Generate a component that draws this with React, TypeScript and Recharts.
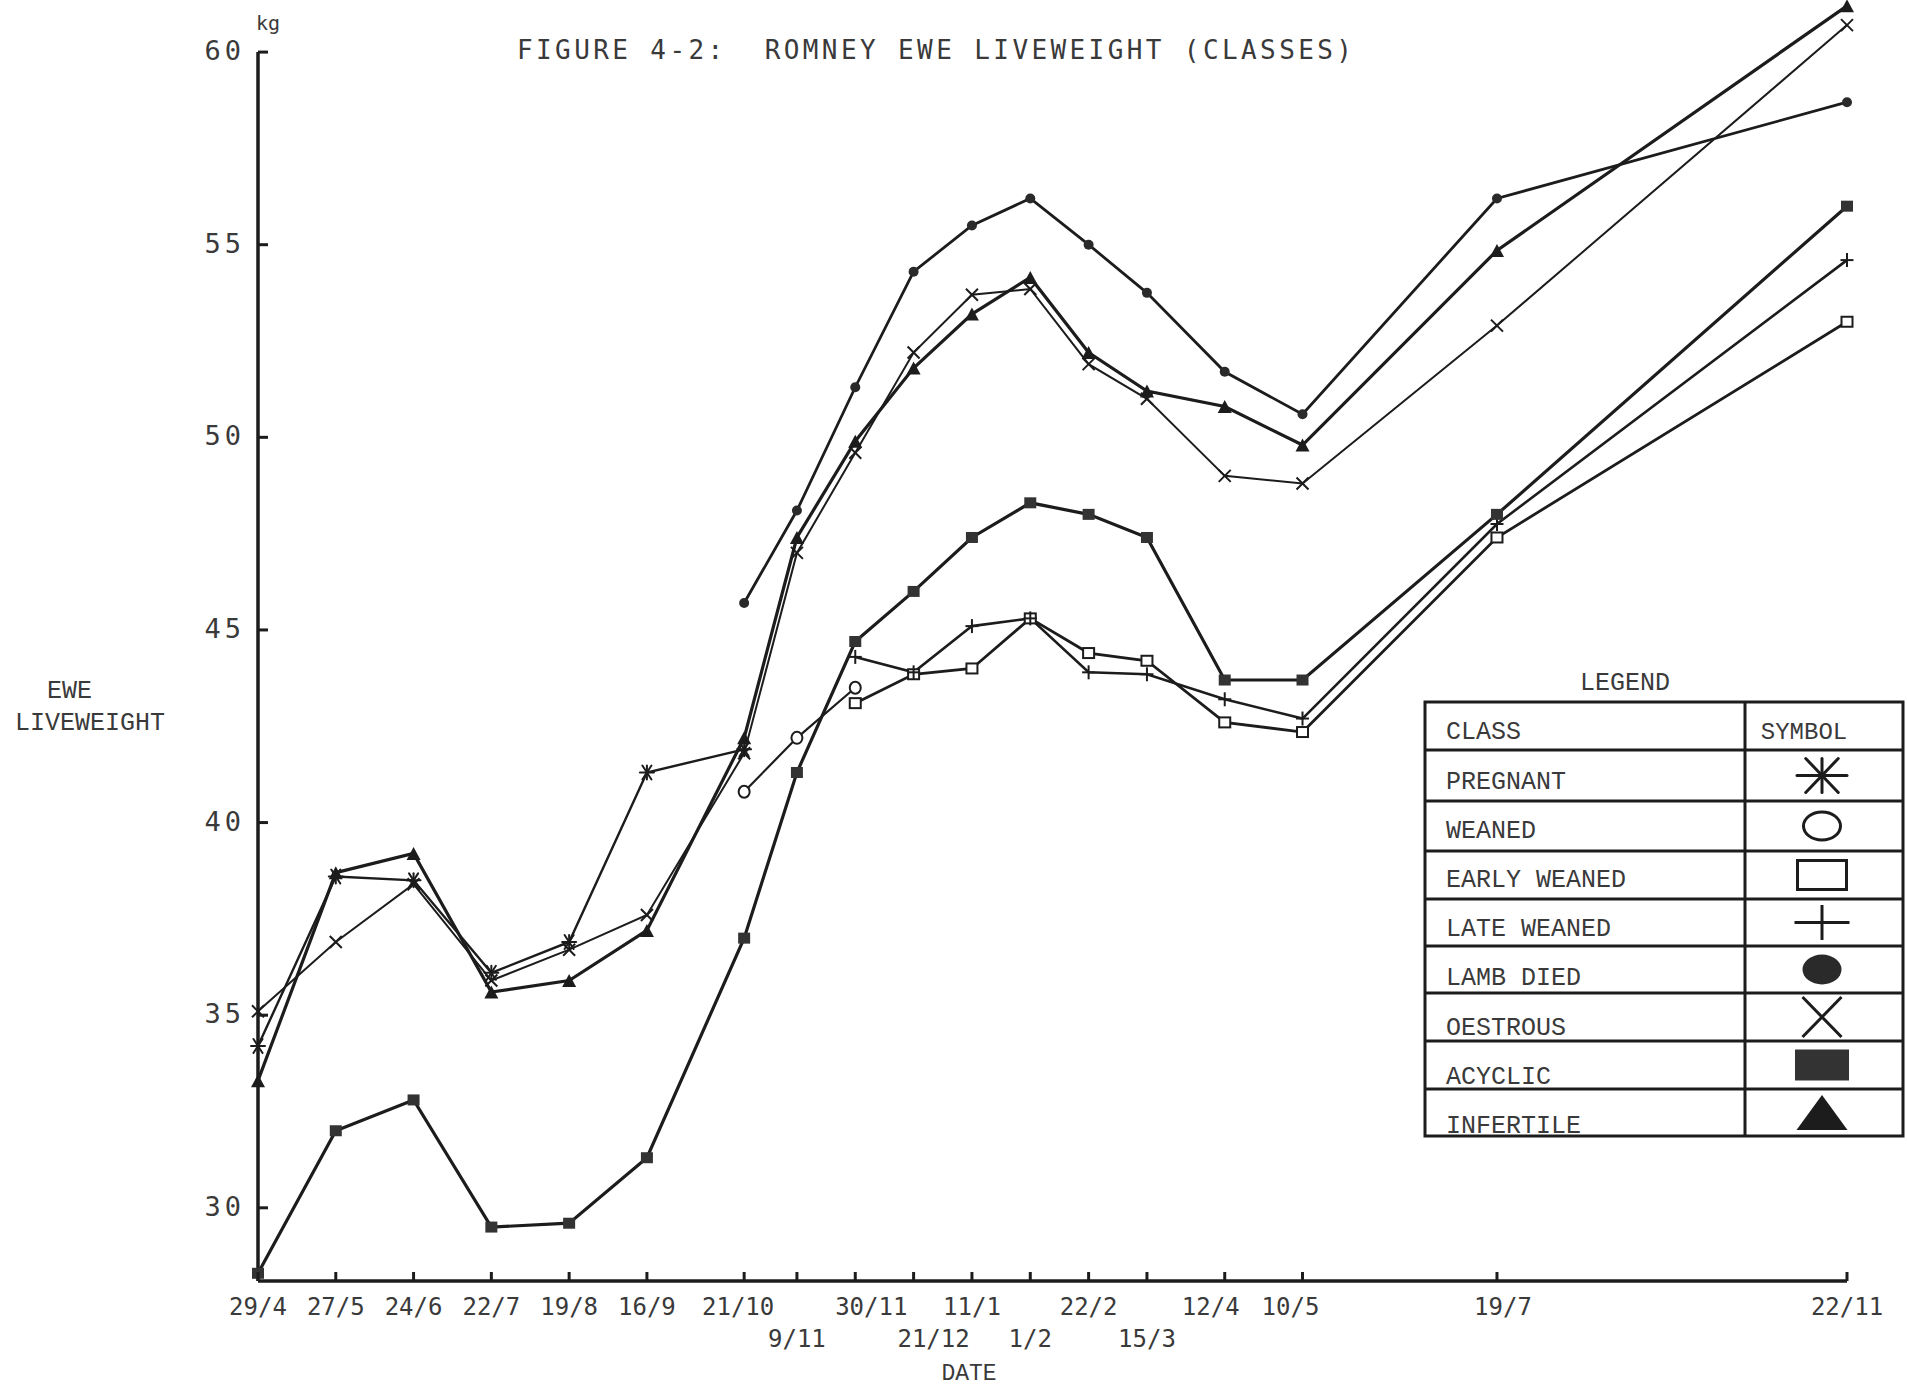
import React from "react";
import { LineChart, Line, XAxis, YAxis, ReferenceLine } from "recharts";

// sampling dates and days since the first weighing (29/4)
const dateLabels = ["29/4", "27/5", "24/6", "22/7", "19/8", "16/9", "21/10", "9/11", "30/11", "21/12", "11/1", "1/2", "22/2", "15/3", "12/4", "10/5", "19/7", "22/11"];
const dayNumbers = [0, 28, 56, 84, 112, 140, 175, 194, 215, 236, 257, 278, 299, 320, 348, 376, 446, 572];
const lowerRowLabels = ["9/11", "21/12", "1/2", "15/3"];
const yTicks = [30, 35, 40, 45, 50, 55, 60];

// liveweight (kg) per class, null where the class was not weighed
const pregnant = [34.2, 38.6, 38.5, 36.1, 36.9, 41.3, 41.9, null, null, null, null, null, null, null, null, null, null, null];
const weaned = [null, null, null, null, null, null, 40.8, 42.2, 43.5, null, null, null, null, null, null, null, null, null];
const earlyWeaned = [null, null, null, null, null, null, null, null, 43.1, 43.85, 44.0, 45.3, 44.4, 44.2, 42.6, 42.35, 47.4, 53.0];
const lateWeaned = [null, null, null, null, null, null, null, null, 44.3, 43.9, 45.1, 45.3, 43.9, 43.85, 43.2, 42.7, 47.75, 54.6];
const lambDied = [null, null, null, null, null, null, 45.7, 48.1, 51.3, 54.3, 55.5, 56.2, 55.0, 53.75, 51.7, 50.6, 56.2, 58.7];
const oestrous = [35.1, 36.9, 38.4, 35.9, 36.7, 37.6, 41.8, 47.0, 49.6, 52.2, 53.7, 53.85, 51.9, 51.0, 49.0, 48.8, 52.9, 60.7];
const acyclic = [28.3, 32.0, 32.8, 29.5, 29.6, 31.3, 37.0, 41.3, 44.7, 46.0, 47.4, 48.3, 48.0, 47.4, 43.7, 43.7, 48.0, 56.0];
const infertile = [33.3, 38.7, 39.2, 35.6, 35.9, 37.2, 42.2, 47.4, 49.9, 51.8, 53.2, 54.15, 52.2, 51.2, 50.8, 49.8, 54.85, 61.2];

const classNames = ["PREGNANT", "WEANED", "EARLY WEANED", "LATE WEANED", "LAMB DIED", "OESTROUS", "ACYCLIC", "INFERTILE"];
const classKeys = ["pregnant", "weaned", "earlyWeaned", "lateWeaned", "lambDied", "oestrous", "acyclic", "infertile"];
const classValues = [pregnant, weaned, earlyWeaned, lateWeaned, lambDied, oestrous, acyclic, infertile];
const classSymbols = ["asterisk", "circle", "square", "plus", "dot", "cross", "block", "triangle"];
const lineWidths = [2.4, 2.2, 2.8, 2.6, 2.8, 2, 3.2, 3.2];

const data = dayNumbers.map((day, i) => {
  const row: Record<string, number | null> = { day };
  classKeys.forEach((k, j) => {
    row[k] = classValues[j][i];
  });
  return row;
});

const INK = "#1c1c1c";
const TEXT = "#3a3a3a";
const SANS_MONO = "'DejaVu Sans Mono', monospace";
const TYPEWRITER = "'Liberation Mono', 'DejaVu Sans Mono', monospace";

// small nudges so the typed labels sit where they do on the original
const labelNudge: Record<string, number> = { "21/10": -6, "30/11": 16, "21/12": 20, "12/4": -14, "10/5": -12, "19/7": 6 };

function Symbol({ kind, cx, cy, w, h, sw }: { kind: string; cx: number; cy: number; w: number; h: number; sw: number }) {
  const hw = w / 2;
  const hh = h / 2;
  switch (kind) {
    case "asterisk":
      return (
        <g stroke={INK} strokeWidth={sw} strokeLinecap="round">
          <line x1={cx - hw} y1={cy} x2={cx + hw} y2={cy} />
          <line x1={cx} y1={cy - hh} x2={cx} y2={cy + hh} />
          <line x1={cx - hw * 0.65} y1={cy - hh} x2={cx + hw * 0.65} y2={cy + hh} />
          <line x1={cx - hw * 0.65} y1={cy + hh} x2={cx + hw * 0.65} y2={cy - hh} />
        </g>
      );
    case "circle":
      return <ellipse cx={cx} cy={cy} rx={hw} ry={hh} fill="#fff" stroke={INK} strokeWidth={sw} />;
    case "square":
      return <rect x={cx - hw} y={cy - hh} width={w} height={h} fill="#fff" stroke={INK} strokeWidth={sw} />;
    case "plus":
      return (
        <g stroke={INK} strokeWidth={sw}>
          <line x1={cx - hw} y1={cy} x2={cx + hw} y2={cy} />
          <line x1={cx} y1={cy - hh} x2={cx} y2={cy + hh} />
        </g>
      );
    case "dot":
      return <ellipse cx={cx} cy={cy} rx={hw} ry={hh} fill="#2a2a2a" />;
    case "cross":
      return (
        <g stroke={INK} strokeWidth={sw}>
          <line x1={cx - hw} y1={cy - hh} x2={cx + hw} y2={cy + hh} />
          <line x1={cx - hw} y1={cy + hh} x2={cx + hw} y2={cy - hh} />
        </g>
      );
    case "block":
      return <rect x={cx - hw} y={cy - hh} width={w} height={h} fill="#333" />;
    case "triangle":
      return <polygon points={`${cx},${cy - hh} ${cx + hw},${cy + hh} ${cx - hw},${cy + hh}`} fill={INK} />;
    default:
      return null;
  }
}

const markerSize: Record<string, [number, number]> = {
  asterisk: [14, 14],
  circle: [11, 12],
  square: [11, 10],
  plus: [13, 14],
  dot: [10, 10],
  cross: [12, 12],
  block: [12, 11],
  triangle: [14, 13],
};

function makeDot(kind: string, name: string) {
  return (p: any) => {
    if (p.cx == null || p.cy == null || p.value == null) return <g key={`${name}-${p.index}`} />;
    const [w, h] = markerSize[kind];
    return (
      <g key={`${name}-${p.index}`}>
        <Symbol kind={kind} cx={p.cx} cy={p.cy} w={w} h={h} sw={2} />
      </g>
    );
  };
}

function YTick(props: any) {
  const { x, y, payload } = props;
  return (
    <g>
      <line x1={x} x2={x + 10} y1={y} y2={y} stroke={INK} strokeWidth={3} />
      <text x={x - 13} y={y + 8} textAnchor="end" fontFamily={SANS_MONO} fontSize={27} fill={TEXT} style={{ letterSpacing: 4 }}>
        {payload.value}
      </text>
    </g>
  );
}

function XTick(props: any) {
  const { x, y, payload } = props;
  const i = dayNumbers.indexOf(payload.value);
  const label = dateLabels[i];
  const lower = lowerRowLabels.includes(label);
  return (
    <g>
      <line x1={x} x2={x} y1={y} y2={y - 9} stroke={INK} strokeWidth={3} />
      <text x={x + (labelNudge[label] || 0)} y={y + (lower ? 66 : 34)} textAnchor="middle" fontFamily={SANS_MONO} fontSize={24} fill={TEXT}>
        {label}
      </text>
    </g>
  );
}

// legend table geometry
const legendRows = [702, 750, 801, 851, 899, 946, 993, 1041, 1089, 1136];
const legendLeft = 1425;
const legendDivider = 1745;
const legendRight = 1903;
const legendSymbolSize: Record<string, [number, number]> = {
  asterisk: [50, 34],
  circle: [37, 28],
  square: [49, 29],
  plus: [55, 35],
  dot: [39, 30],
  cross: [39, 40],
  block: [54, 31],
  triangle: [51, 35],
};

function LegendTable() {
  return (
    <g>
      <text x={1625} y={690} textAnchor="middle" fontFamily={TYPEWRITER} fontSize={25} fill={TEXT}>
        LEGEND
      </text>
      <rect x={legendLeft} y={legendRows[0]} width={legendRight - legendLeft} height={legendRows[9] - legendRows[0]} fill="#fff" stroke={INK} strokeWidth={3} />
      {legendRows.slice(1, 9).map((y) => (
        <line key={y} x1={legendLeft} x2={legendRight} y1={y} y2={y} stroke={INK} strokeWidth={3} />
      ))}
      <line x1={legendDivider} x2={legendDivider} y1={legendRows[0]} y2={legendRows[9]} stroke={INK} strokeWidth={3} />
      <text x={1446} y={739} fontFamily={TYPEWRITER} fontSize={25} fill={TEXT}>CLASS</text>
      <text x={1804} y={739} textAnchor="middle" fontFamily={TYPEWRITER} fontSize={24} fill={TEXT}>SYMBOL</text>
      {classNames.map((name, i) => {
        const [w, h] = legendSymbolSize[classSymbols[i]];
        const mid = (legendRows[i + 1] + legendRows[i + 2]) / 2;
        return (
          <g key={name}>
            <text x={1446} y={789 + i * 49.1} fontFamily={TYPEWRITER} fontSize={25} fill={TEXT} style={{ whiteSpace: "pre" }}>
              {name}
            </text>
            <Symbol kind={classSymbols[i]} cx={1822} cy={mid} w={w} h={h} sw={3} />
          </g>
        );
      })}
    </g>
  );
}

export default function App() {
  return (
    <div style={{ position: "absolute", left: 0, top: 0, width: 1907, height: 1391, background: "#fff" }}>
      <LineChart width={1907} height={1391} data={data} margin={{ top: 2, right: 60, bottom: 10, left: 198 }}>
        <XAxis
          dataKey="day"
          type="number"
          domain={[0, 572]}
          ticks={dayNumbers}
          interval={0}
          height={100}
          tickSize={0}
          tickMargin={0}
          tickLine={false}
          tick={<XTick />}
          axisLine={{ stroke: INK, strokeWidth: 3.5 }}
        />
        <YAxis
          type="number"
          domain={[28.1, 61.3]}
          ticks={yTicks}
          width={60}
          tickSize={0}
          tickMargin={0}
          tickLine={false}
          axisLine={false}
          tick={<YTick />}
        />
        <ReferenceLine segment={[{ x: 0, y: 28.1 }, { x: 0, y: 60 }]} stroke={INK} strokeWidth={3.5} />
        {classKeys.map((k, i) => (
          <Line
            key={k}
            type="linear"
            dataKey={k}
            name={classNames[i]}
            stroke={INK}
            strokeWidth={lineWidths[i]}
            dot={makeDot(classSymbols[i], k)}
            activeDot={false}
            isAnimationActive={false}
          />
        ))}
      </LineChart>
      <svg width={1907} height={1391} style={{ position: "absolute", left: 0, top: 0, pointerEvents: "none" }}>
        <text x={517} y={59} fontFamily={SANS_MONO} fontSize={26} fill={TEXT} style={{ letterSpacing: 3.4, whiteSpace: "pre" }}>
          FIGURE 4-2:  ROMNEY EWE LIVEWEIGHT (CLASSES)
        </text>
        <text x={268} y={30} textAnchor="middle" fontFamily={SANS_MONO} fontSize={20} fill={TEXT}>kg</text>
        <text x={47} y={698} fontFamily={TYPEWRITER} fontSize={25} fill={TEXT}>EWE</text>
        <text x={15} y={730} fontFamily={TYPEWRITER} fontSize={25} fill={TEXT}>LIVEWEIGHT</text>
        <text x={969} y={1380} textAnchor="middle" fontFamily={TYPEWRITER} fontSize={23} fill={TEXT}>DATE</text>
        <LegendTable />
      </svg>
    </div>
  );
}
